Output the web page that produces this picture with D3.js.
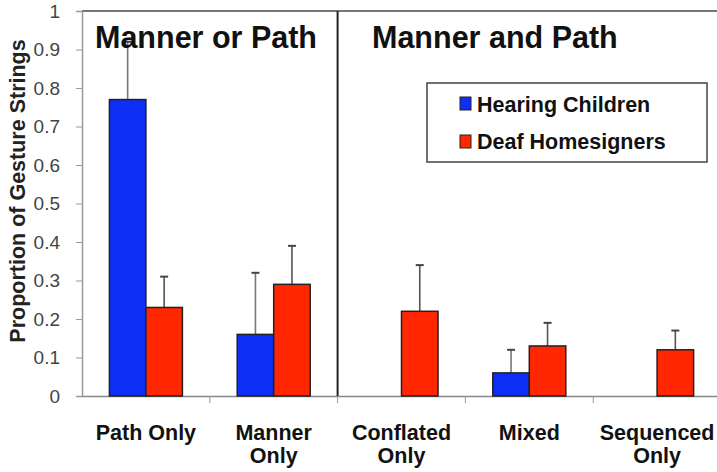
<!DOCTYPE html>
<html>
<head>
<meta charset="utf-8">
<script src="https://cdn.jsdelivr.net/npm/d3@7"></script>
<style>
  body { margin: 0; background: #fff; }
  text { font-family: "Liberation Sans", Arial, sans-serif; }
</style>
</head>
<body>
<svg width="717" height="472"></svg>
<script>
const categories = [['Path Only'], ['Manner', 'Only'], ['Conflated', 'Only'], ['Mixed'], ['Sequenced', 'Only']];
const seriesNames = ['Hearing Children', 'Deaf Homesigners'];
const seriesColors = ['#0d2ff5', '#ff2600'];
const hearingMeans = [0.77, 0.16, 0, 0.06, 0];
const hearingErrTop = [0.92, 0.32, null, 0.12, null];
const deafMeans = [0.23, 0.29, 0.22, 0.13, 0.12];
const deafErrTop = [0.31, 0.39, 0.34, 0.19, 0.17];
const yTicks = [0, 0.1, 0.2, 0.3, 0.4, 0.5, 0.6, 0.7, 0.8, 0.9, 1];
const panelTitles = ['Manner or Path', 'Manner and Path'];

const svg = d3.select('svg');

const margin = { left: 82, top: 11, right: -4, bottom: 76 };
const width = +svg.attr('width');
const height = +svg.attr('height');

const x = d3.scaleBand()
    .domain(d3.range(categories.length))
    .range([margin.left, width - margin.right])
    .paddingInner(0)
    .paddingOuter(0);

const y = d3.scaleLinear()
    .domain([0, 1])
    .range([height - margin.bottom, margin.top]);

const barW = 36.5;

// frame top line
svg.append('line')
    .attr('x1', margin.left).attr('x2', width)
    .attr('y1', y(1)).attr('y2', y(1))
    .attr('stroke', '#777').attr('stroke-width', 2);

// y axis
const yAxis = svg.append('g')
    .attr('transform', `translate(${margin.left},0)`)
    .call(d3.axisLeft(y).tickValues(yTicks).tickSize(6).tickPadding(16)
        .tickFormat(d => d === 0 || d === 1 ? d3.format('d')(d) : d3.format('.1f')(d)));
yAxis.select('.domain').attr('stroke', '#999').attr('stroke-width', 1.5);
yAxis.selectAll('.tick line').attr('stroke', '#999');
yAxis.selectAll('.tick text')
    .attr('fill', '#444')
    .style('font-size', '19px');

// x axis
const xAxis = svg.append('g')
    .attr('transform', `translate(0,${y(0)})`)
    .call(d3.axisBottom(x).tickSize(0).tickFormat(''));
xAxis.select('.domain').attr('stroke', '#888').attr('stroke-width', 1.5);
xAxis.selectAll('.boundary')
    .data(d3.range(1, categories.length))
    .join('line')
    .attr('x1', i => x(i)).attr('x2', i => x(i))
    .attr('y1', 0).attr('y2', 7)
    .attr('stroke', '#999');

// divider between panels
svg.append('line')
    .attr('x1', x(2)).attr('x2', x(2))
    .attr('y1', y(1)).attr('y2', y(0))
    .attr('stroke', '#222').attr('stroke-width', 2);

// x labels
categories.forEach((lines, i) => {
    const t = svg.append('text')
        .attr('x', x(i) + x.bandwidth() / 2)
        .attr('y', 440)
        .attr('text-anchor', 'middle')
        .style('font-size', '21.5px')
        .style('font-weight', 'bold')
        .attr('fill', '#111');
    lines.forEach((l, j) => {
        t.append('tspan')
            .attr('x', x(i) + x.bandwidth() / 2)
            .attr('dy', j === 0 ? 0 : 23)
            .text(l);
    });
});

// bars + error bars
const series = [
    { means: hearingMeans, err: hearingErrTop, offset: -barW, errColor: '#777' },
    { means: deafMeans, err: deafErrTop, offset: 0, errColor: '#555' }
];

series.forEach((s, si) => {
    const g = svg.append('g');
    const idx = d3.range(categories.length);
    g.selectAll('.err')
        .data(idx.filter(i => s.err[i] != null))
        .join('line')
        .attr('x1', i => x(i) + x.bandwidth() / 2 + s.offset + barW / 2)
        .attr('x2', i => x(i) + x.bandwidth() / 2 + s.offset + barW / 2)
        .attr('y1', i => y(s.means[i]))
        .attr('y2', i => y(s.err[i]))
        .attr('stroke', s.errColor).attr('stroke-width', 1.6);
    g.selectAll('.cap')
        .data(idx.filter(i => s.err[i] != null))
        .join('line')
        .attr('x1', i => x(i) + x.bandwidth() / 2 + s.offset + barW / 2 - 4)
        .attr('x2', i => x(i) + x.bandwidth() / 2 + s.offset + barW / 2 + 4)
        .attr('y1', i => y(s.err[i]))
        .attr('y2', i => y(s.err[i]))
        .attr('stroke', '#444').attr('stroke-width', 2);
    g.selectAll('.bar')
        .data(idx.filter(i => s.means[i] > 0))
        .join('rect')
        .attr('x', i => x(i) + x.bandwidth() / 2 + s.offset)
        .attr('y', i => y(s.means[i]))
        .attr('width', barW)
        .attr('height', i => y(0) - y(s.means[i]))
        .attr('fill', seriesColors[si])
        .attr('stroke', '#222').attr('stroke-width', 1.5);
});

// panel titles
svg.append('text')
    .attr('x', 95).attr('y', 48)
    .style('font-size', '30.5px').style('font-weight', 'bold')
    .attr('fill', '#111')
    .text(panelTitles[0]);
svg.append('text')
    .attr('x', 372).attr('y', 48)
    .style('font-size', '30.5px').style('font-weight', 'bold')
    .attr('fill', '#111')
    .text(panelTitles[1]);

// legend
const legend = svg.append('g').attr('transform', 'translate(427,83)');
legend.append('rect')
    .attr('width', 280).attr('height', 79)
    .attr('fill', '#fff')
    .attr('stroke', '#444').attr('stroke-width', 1.5);
seriesNames.forEach((name, i) => {
    legend.append('rect')
        .attr('x', 33).attr('y', 14 + i * 38)
        .attr('width', 11).attr('height', 13)
        .attr('fill', seriesColors[i])
        .attr('stroke', '#222').attr('stroke-width', 1);
    legend.append('text')
        .attr('x', 50).attr('y', 29 + i * 37)
        .style('font-size', '21.5px').style('font-weight', 'bold')
        .attr('fill', '#111')
        .text(name);
});

// y label
svg.append('text')
    .attr('transform', `translate(25,191) rotate(-90)`)
    .attr('text-anchor', 'middle')
    .style('font-size', '21.5px').style('font-weight', 'bold')
    .attr('fill', '#222')
    .text('Proportion of Gesture Strings');
</script>
</body>
</html>
